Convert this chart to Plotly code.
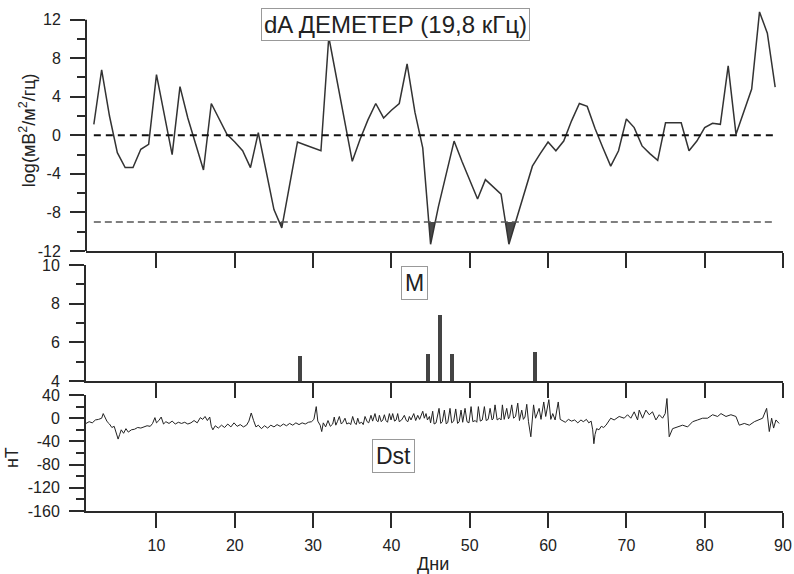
import plotly.graph_objects as go

# ---------------- data ----------------
days = list(range(2, 90))
dA = [1.14, 6.8, 2.0, -1.8, -3.35, -3.35, -1.45, -0.93, 6.3, 2.2,
      -2.0, 5.05, 1.8, -0.9, -3.6, 3.3, 1.7, 0.1, -0.7, -1.6,
      -3.35, 0.28, -3.7, -7.7, -9.6, -5.1, -0.7, -1.0, -1.3, -1.6,
      10.2, 6.0, 1.7, -2.7, -0.4, 1.6, 3.3, 1.8, 2.6, 3.3,
      7.4, 2.4, -1.3, -11.3, -7.4, -3.9, -0.6, -2.7, -4.7, -6.6,
      -4.6, -5.4, -6.1, -11.3, -8.6, -6.0, -3.2, -1.9, -0.7, -1.6,
      -0.6, 1.5, 3.3, 3.0, 0.7, -1.3, -3.2, -1.6, 1.7, 0.8,
      -1.1, -1.9, -2.6, 1.3, 1.3, 1.3, -1.6, -0.6, 0.8, 1.24,
      1.14, 7.2, 0.1, 2.5, 4.8, 12.8, 10.6, 5.0]
dA_threshold = -9.0
dA_zero = 0.0

quake_day = [28.3, 44.7, 46.2, 47.7, 58.3]
quake_mag = [5.3, 5.4, 7.4, 5.4, 5.5]

dst_day = [1.0, 1.4, 1.8, 2.2, 2.6, 3.0, 3.2, 3.4, 3.7, 4.0, 4.3, 4.6, 4.9, 5.1, 5.3, 5.5, 5.8, 6.1, 6.4, 6.8,
           7.2, 7.6, 8.0, 8.4, 8.8, 9.2, 9.5, 9.8, 10.0, 10.3, 10.6, 10.9, 11.2, 11.6, 12.0, 12.4, 12.8, 13.2, 13.6, 14.0,
           14.4, 14.8, 15.2, 15.6, 15.9, 16.2, 16.5, 16.8, 17.0, 17.2, 17.5, 17.9, 18.3, 18.7, 19.1, 19.5, 19.9, 20.3, 20.7, 21.1,
           21.5, 21.8, 22.1, 22.4, 22.7, 23.0, 23.4, 23.8, 24.2, 24.6, 25.0, 25.4, 25.8, 26.2, 26.6, 27.0, 27.4, 27.8, 28.2, 28.6,
           29.0, 29.4, 29.8, 30.1, 30.4, 30.6, 30.9, 31.1, 31.3, 31.6, 31.9, 32.2, 32.5, 32.7, 32.9, 33.1, 33.35, 33.6, 33.8, 34.07,
           34.3, 34.6, 34.8, 35.05, 35.3, 35.5, 35.7, 35.9, 36.2, 36.4, 36.63, 36.9, 37.1, 37.39, 37.6, 37.9, 38.1, 38.3, 38.46, 38.7,
           38.9, 39.1, 39.3, 39.5, 39.74, 39.95, 40.16, 40.4, 40.6, 40.8, 41.0, 41.3, 41.65, 41.9, 42.1, 42.29, 42.5, 42.85, 43.1, 43.36,
           43.6, 44.0, 44.2, 44.42, 44.6, 44.85, 45.0, 45.27, 45.45, 45.7, 46.08, 46.3, 46.5, 46.76, 47.0, 47.2, 47.48, 47.7, 47.95, 48.21,
           48.45, 48.65, 48.89, 49.1, 49.4, 49.65, 49.9, 50.17, 50.4, 50.7, 50.9, 51.1, 51.35, 51.6, 51.87, 52.1, 52.35, 52.6, 52.85, 53.0,
           53.23, 53.5, 53.8, 54.0, 54.17, 54.4, 54.72, 54.95, 55.1, 55.36, 55.6, 55.85, 56.13, 56.35, 56.64, 56.85, 57.05, 57.28, 57.5, 57.8,
           58.0, 58.15, 58.4, 58.86, 59.1, 59.45, 59.7, 60.1, 60.35, 60.6, 60.9, 61.3, 61.55, 61.8, 62.2, 62.6, 63.0, 63.4, 63.8, 64.2,
           64.5, 64.9, 65.2, 65.5, 65.7, 65.85, 66.0, 66.2, 66.5, 66.8, 67.1, 67.4, 68.0, 68.44, 69.08, 69.72, 70.15, 70.57, 71.0, 71.43,
           71.64, 72.07, 72.49, 72.92, 73.34, 73.77, 74.2, 74.62, 74.96, 75.18, 75.47, 75.9, 76.54, 77.18, 77.82, 78.46, 79.1, 79.73, 80.37, 81.01,
           81.65, 82.08, 82.72, 83.35, 83.99, 84.42, 85.06, 85.7, 86.34, 86.97, 87.4, 87.91, 88.25, 88.55, 88.8, 89.1, 89.5]
dst_val = [-9, -6, -8, -3, -2, 0, 8, 2, -6, -10, -16, -14, -25, -36, -28, -20, -26, -18, -24, -20,
           -19, -16, -17, -15, -13, -14, -9, 1, -8, -4, 2, -10, -6, -9, -5, -10, -7, -9, -7, -10,
           -8, -4, -8, 1, -2, 3, -4, 2, -14, -20, -13, -17, -12, -16, -10, -15, -8, -14, -11, -15,
           -12, -5, 9, -4, -15, -12, -18, -13, -17, -12, -15, -11, -14, -10, -13, -9, -12, -8, -11, -8,
           -10, -7, -6, -2, 20, -5, -12, -23, -8, -15, -4, -14, -10, 2, -12, -6, 3, -10, -7, 0,
           -10, -8, -11, 3, -8, -11, 0, -9, -7, -11, 3, -6, -8, 5, -5, 8, -4, -6, 5, -6,
           -3, 6, -4, -7, 8, -3, 8, -5, -3, 8, -6, -3, 5, -4, -6, 3, -3, 8, -4, 5,
           -2, 12, 0, 8, -3, 3, -8, 12, -10, -8, 17, -9, -6, 14, -10, -7, 17, -8, -5, 16,
           -9, -6, 14, -7, 17, -6, -8, 20, -6, -4, -7, 20, -5, -3, 20, -4, -2, 17, -3, -1,
           23, -3, 0, -3, 23, -2, 17, -1, 3, 23, 0, 3, 26, -4, 14, -2, 2, 24, -6, -32,
           -5, 23, 0, 17, -2, 28, 3, 32, -2, 8, -3, 28, -2, -4, -7, -2, -5, -3, -8, -3,
           -6, -2, -8, -5, -20, -44, -28, -18, -20, -14, -16, -12, 0, -3, 3, 0, 6, 0, 11, -3,
           14, 0, 14, 6, 11, -3, 6, 0, 8, 34, -32, -18, -15, -12, -15, -6, -3, 0, 0, 6,
           3, 8, 3, 6, 3, -12, -9, -12, -6, -3, 0, 17, -23, 0, -17, -3, -9]

x_ticks = [10, 20, 30, 40, 50, 60, 70, 80, 90]
y1_ticks = [12, 8, 4, 0, -4, -8, -12]
y1_labels = ["12", "8", "4", "0", "-4", "-8", "-12"]
y2_ticks = [10, 8, 6, 4]
y2_labels = ["10", "8", "6", "4"]
y3_ticks = [40, 0, -40, -80, -120, -160]
y3_labels = ["40", "0", "-40", "-80", "-120", "-160"]

# -------------- fill polygons below threshold --------------
fx, fy = [], []
n = len(days)
i = 0
while i < n:
    if dA[i] < dA_threshold:
        poly_x, poly_y = [], []
        if i > 0:
            x0, y0, x1, y1 = days[i-1], dA[i-1], days[i], dA[i]
            poly_x.append(x0 + (dA_threshold - y0) * (x1 - x0) / (y1 - y0))
            poly_y.append(dA_threshold)
        j = i
        while j < n and dA[j] < dA_threshold:
            poly_x.append(days[j]); poly_y.append(dA[j]); j += 1
        if j < n:
            x0, y0, x1, y1 = days[j-1], dA[j-1], days[j], dA[j]
            poly_x.append(x0 + (dA_threshold - y0) * (x1 - x0) / (y1 - y0))
            poly_y.append(dA_threshold)
        fx += poly_x + [poly_x[0], None]
        fy += poly_y + [poly_y[0], None]
        i = j
    else:
        i += 1

AX = "#2a2a2a"
FONT = "Liberation Sans, Arial, sans-serif"
TICKFONT = dict(size=16, color="#222", family=FONT)

fig = go.Figure()
fig.add_trace(go.Scatter(x=fx, y=fy, fill="toself", fillcolor="#4a4a4a",
                         line=dict(width=0), mode="lines", xaxis="x", yaxis="y",
                         hoverinfo="skip", showlegend=False))
fig.add_trace(go.Scatter(x=days, y=dA, mode="lines", line=dict(color="#333333", width=1.5),
                         xaxis="x", yaxis="y", showlegend=False))
fig.add_trace(go.Bar(x=quake_day, y=quake_mag, width=0.5, marker=dict(color="#444444", line=dict(width=0)),
                     xaxis="x2", yaxis="y2", showlegend=False))
fig.add_trace(go.Scatter(x=dst_day, y=dst_val, mode="lines", line=dict(color="#222222", width=1),
                         xaxis="x3", yaxis="y3", showlegend=False))

fig.add_shape(type="line", xref="x", yref="y", x0=days[0], x1=days[-1], y0=dA_zero, y1=dA_zero,
              line=dict(color="#111111", width=2, dash="7px,5px"))
fig.add_shape(type="line", xref="x", yref="y", x0=days[0], x1=days[-1], y0=dA_threshold, y1=dA_threshold,
              line=dict(color="#555555", width=1.5, dash="7px,4px"))
fig.add_shape(type="line", xref="x domain", yref="y", x0=0, x1=0, y0=y1_ticks[-1], y1=y1_ticks[0],
              line=dict(color=AX, width=2))

def xax(anchor, labels):
    return dict(domain=[0, 1], anchor=anchor, range=[1, 90], tickmode="array", tickvals=x_ticks,
                showticklabels=labels, ticks="outside", ticklen=15, tickwidth=2, tickcolor=AX,
                showline=True, linewidth=2, linecolor=AX, showgrid=False, zeroline=False,
                ticklabelstandoff=4, tickfont=TICKFONT, automargin=False)

def yax(dom, rng, tv, tt, mdt, anchor, line=True):
    return dict(domain=dom, anchor=anchor, range=rng, tickmode="array",
                tickvals=tv, ticktext=tt, ticks="outside", ticklen=15, tickwidth=2, tickcolor=AX,
                showline=line, linewidth=2, linecolor=AX, showgrid=False, zeroline=False,
                ticklabelstandoff=6, tickfont=TICKFONT, automargin=False,
                minor=dict(dtick=mdt, tick0=0, ticks="outside", ticklen=8, tickwidth=2, tickcolor=AX,
                           showgrid=False))

y1 = yax([0.519, 1.0], [-12, 13], y1_ticks, y1_labels, 2, "x", line=False)
y2 = yax([0.2595, 0.491], [4, 10], y2_ticks, y2_labels, 1, "x2")
y3 = yax([0.0, 0.2315], [-160, 40], y3_ticks, y3_labels, 20, "x3")

fig.update_layout(
    width=794, height=574, autosize=False,
    margin=dict(l=86, r=11, t=10, b=63, autoexpand=False),
    paper_bgcolor="white", plot_bgcolor="white",
    font=dict(family=FONT, color="#222"),
    xaxis=xax("y", False), xaxis2=xax("y2", False), xaxis3=xax("y3", True),
    yaxis=y1, yaxis2=y2, yaxis3=y3,
    bargap=0,
    annotations=[
        dict(text="dA ДЕМЕТЕР (19,8 кГц)", xref="paper", yref="paper", x=0.444, y=0.972,
             showarrow=False, font=dict(size=24, family=FONT, color="#222"), bordercolor="#999",
             borderwidth=1, borderpad=2, bgcolor="white", xanchor="center", yanchor="middle"),
        dict(text="M", xref="paper", yref="paper", x=0.472, y=0.455, showarrow=False,
             font=dict(size=23, family=FONT, color="#222"), bordercolor="#999", borderwidth=1,
             borderpad=3, bgcolor="white", xanchor="center", yanchor="middle"),
        dict(text="Dst", xref="paper", yref="paper", x=0.4405, y=0.1098, showarrow=False,
             font=dict(size=23, family=FONT, color="#222"), bordercolor="#999", borderwidth=1,
             borderpad=3, bgcolor="white", xanchor="center", yanchor="middle"),
        dict(text="log(мВ<sup>2</sup>/м<sup>2</sup>/гц)", xref="paper", yref="paper", x=-0.083, y=0.7605,
             textangle=-90, showarrow=False, font=dict(size=18, family=FONT, color="#222"),
             xanchor="center", yanchor="middle"),
        dict(text="нТ", xref="paper", yref="paper", x=-0.106, y=0.1058, textangle=-90, showarrow=False,
             font=dict(size=18, family=FONT, color="#222"), xanchor="center", yanchor="middle"),
        dict(text="Дни", xref="paper", yref="paper", x=0.498, y=-0.1058, showarrow=False,
             font=dict(size=18, family=FONT, color="#222"), xanchor="center", yanchor="middle"),
    ],
)

fig.write_html("out.html",
               config={"displayModeBar": False, "responsive": False},
               post_script="document.documentElement.style.overflow='hidden';"
                           "document.body.style.margin='0';document.body.style.overflow='hidden';")
